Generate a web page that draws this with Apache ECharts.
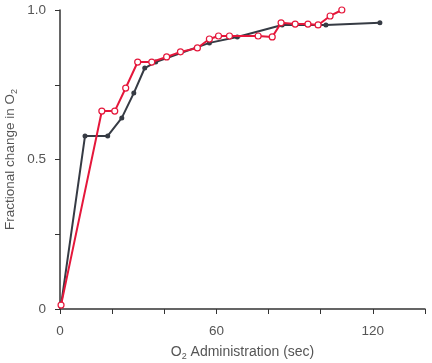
<!DOCTYPE html>
<html><head><meta charset="utf-8">
<script src="https://cdn.jsdelivr.net/npm/echarts@6/dist/echarts.min.js"></script>
<style>html,body{margin:0;padding:0;background:#fff}#c{width:432px;height:363px}</style>
</head><body><div id="c"></div>
<script>
const darkX = [0.4, 9.6, 18.3, 23.7, 28.3, 32.5, 36.7, 57.3, 68, 85.2, 102, 122.7];
const darkY = [0.013, 0.579, 0.579, 0.639, 0.722, 0.806, 0.826, 0.89, 0.91, 0.95, 0.95, 0.957];
const redX = [0.4, 16.05, 21, 25.2, 29.8, 35.2, 40.9, 46.2, 52.7, 57.3, 60.8, 65, 76, 81.4, 84.8, 90.2, 95.1, 99, 103.6, 108.1];
const redY = [0.013, 0.662, 0.662, 0.739, 0.826, 0.826, 0.843, 0.86, 0.873, 0.903, 0.913, 0.913, 0.913, 0.91, 0.957, 0.953, 0.953, 0.95, 0.98, 1.0];
const xTickLabels = {0: '0', 60: '60', 120: '120'};
const yTickLabels = {0: '0', 0.5: '0.5', 1: '1.0'};

const zip = (xs, ys) => xs.map((x, i) => [x, ys[i]]);
const font = 'Liberation Sans, Arial, sans-serif';
const chart = echarts.init(document.getElementById('c'), null, {renderer: 'canvas'});
chart.setOption({
  animation: false,
  backgroundColor: '#ffffff',
  grid: {left: 60, top: 10, right: 7, bottom: 54, containLabel: false, outerBoundsMode: 'none'},
  xAxis: {
    type: 'value', min: 0, max: 140, interval: 20,
    name: 'O{sub|2} Administration (sec)', nameLocation: 'middle', nameGap: 35, nameMoveOverlap: false,
    nameTextStyle: {color: '#555', fontSize: 14, fontFamily: font,
      rich: {sub: {fontSize: 9, verticalAlign: 'bottom', padding: [8, 0, 0, 0], color: '#555', fontFamily: font}}},
    axisLine: {show: true, lineStyle: {color: '#333', width: 1.5}},
    axisTick: {show: true, length: 5, lineStyle: {color: '#333', width: 1}},
    axisLabel: {color: '#555', fontSize: 13.5, fontFamily: font, margin: 15,
      formatter: v => (xTickLabels[v] !== undefined ? xTickLabels[v] : '')},
    splitLine: {show: false}
  },
  yAxis: {
    type: 'value', min: 0, max: 1, interval: 0.25,
    name: 'Fractional change in O{sub|2}', nameLocation: 'middle', nameGap: 41, nameMoveOverlap: false,
    nameTextStyle: {color: '#555', fontSize: 13.5, fontFamily: font,
      rich: {sub: {fontSize: 9, verticalAlign: 'bottom', padding: [8, 0, 0, 0], color: '#555', fontFamily: font}}},
    axisLine: {show: true, lineStyle: {color: '#333', width: 1.5}},
    axisTick: {show: true, length: 5, lineStyle: {color: '#333', width: 1}},
    axisLabel: {color: '#555', fontSize: 13.5, fontFamily: font, margin: 14,
      formatter: v => (yTickLabels[v] !== undefined ? yTickLabels[v] : '')},
    splitLine: {show: false}
  },
  series: [
    {
      type: 'line', data: zip(darkX, darkY), symbol: 'circle', symbolSize: 5,
      lineStyle: {color: '#363b44', width: 2}, itemStyle: {color: '#363b44'}, z: 2
    },
    {
      type: 'line', data: zip(redX, redY), symbol: 'circle', symbolSize: 6,
      lineStyle: {color: '#e5173b', width: 2},
      itemStyle: {color: '#ffffff', borderColor: '#e5173b', borderWidth: 1.2}, z: 3
    }
  ]
});
</script></body></html>
